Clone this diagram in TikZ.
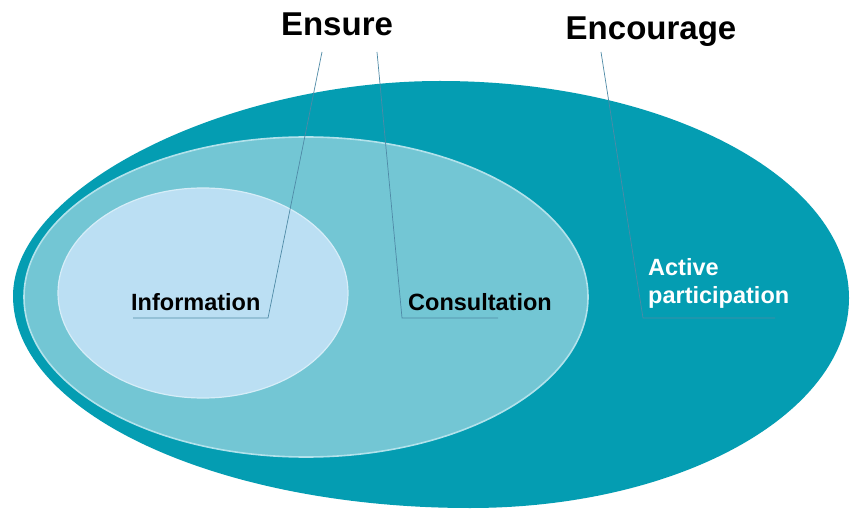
\documentclass[tikz,border=0pt]{standalone}
\usepackage{fontspec}
\setmainfont{Liberation Sans}
\begin{document}
\begin{tikzpicture}[x=1pt,y=-1pt,
  outerfill/.style={fill=outerc},
  midfill/.style={fill=midc, draw=midedge, line width=1.6pt},
  innfill/.style={fill=innc, draw=innedge, line width=1.2pt},
  title/.style={font=\bfseries\fontsize{33}{38}\selectfont, text=black, inner sep=0pt, anchor=base},
  lab/.style={font=\bfseries\fontsize{23.5}{28}\selectfont, inner sep=0pt, anchor=base west},
  leader/.style={draw=leadc, line width=0.7pt}]
\definecolor{outerc}{HTML}{049DB2}
\definecolor{midc}{HTML}{73C6D4}
\definecolor{midedge}{HTML}{B2E2EB}
\definecolor{innc}{HTML}{BBDFF3}
\definecolor{innedge}{HTML}{D6EDF8}
\definecolor{leadc}{HTML}{4F8AA6}
\useasboundingbox (0,0) rectangle (850,510);
\clip (0,0) rectangle (850,510);
\fill[white] (0,0) rectangle (850,510);
% outer egg-shaped region
\fill[outerfill] (13,296)
  .. controls (13,188) and (226,81) .. (440,81)
  .. controls (666,81) and (849,178) .. (849,298)
  .. controls (849,414) and (679,508) .. (470,508)
  .. controls (218,508) and (13,413) .. (13,296) -- cycle;
% inner ellipses
\path[midfill] (306,297) ellipse [x radius=282pt, y radius=160pt];
\path[innfill] (203,293) ellipse [x radius=145pt, y radius=105pt];
% titles
\node[title] (ensure) at (337,36) {Ensure};
\node[title] (encourage) at (651,40) {Encourage};
% labels
\node[lab, text=black] (info) at (131,310) {Information};
\node[lab, text=black] (cons) at (408,310) {Consultation};
\node[lab, text=white] (act) at (648,276) {Active};
\node[lab, text=white] (part) at (648,303) {participation};
% leader lines
\coordinate (l1a) at (322,52);
\coordinate (l1b) at (268,318);
\coordinate (l1c) at (133,318);
\coordinate (l2a) at (377,52);
\coordinate (l2b) at (402,318);
\coordinate (l2c) at (498,318);
\coordinate (l3a) at (601,52);
\coordinate (l3b) at (643,318);
\coordinate (l3c) at (775,318);
\draw[leader] (l1a) -- (l1b) -- (l1c);
\draw[leader] (l2a) -- (l2b) -- (l2c);
\draw[leader] (l3a) -- (l3b) -- (l3c);
\end{tikzpicture}
\end{document}
